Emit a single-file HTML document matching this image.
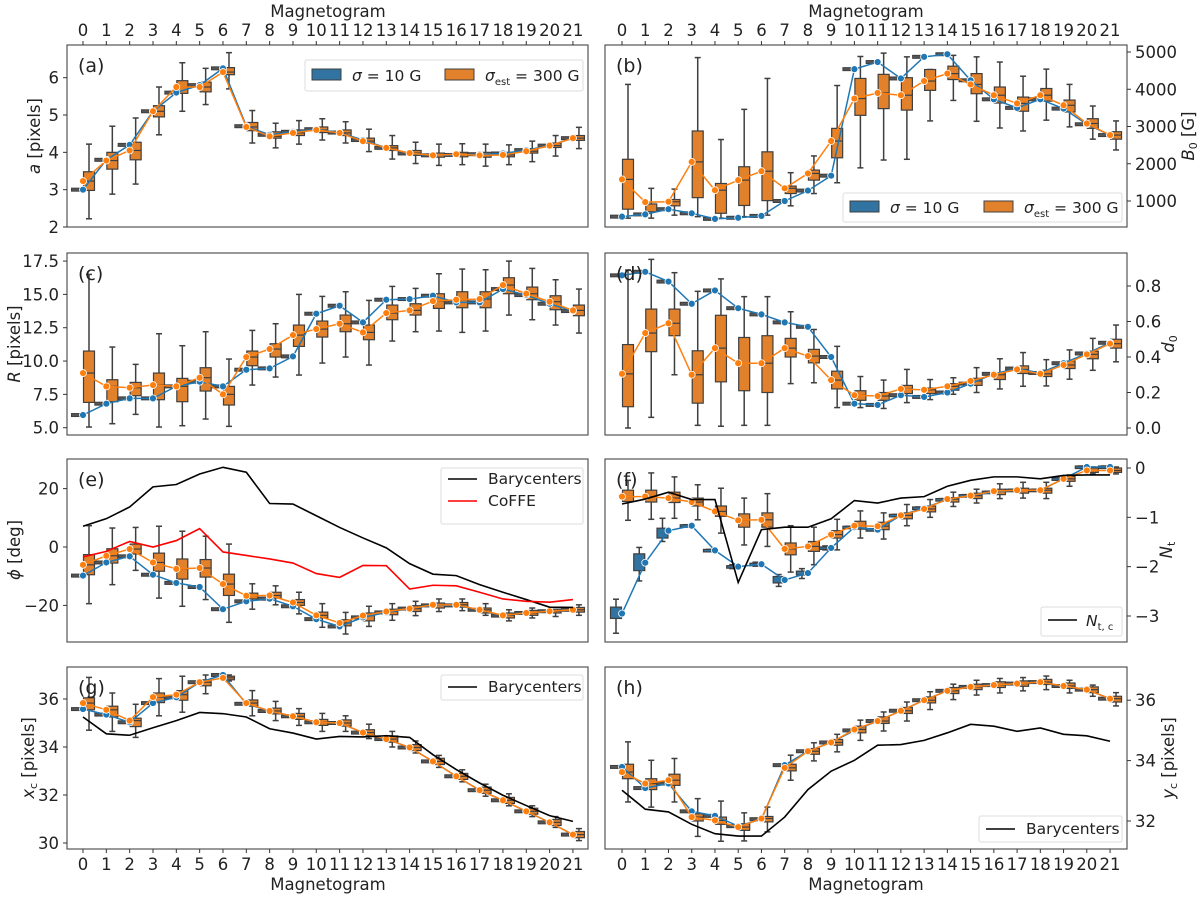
<!DOCTYPE html>
<html><head><meta charset="utf-8">
<style>
body{margin:0;background:#fff;}
svg{display:block;font-family:"DejaVu Sans","Liberation Sans",sans-serif;}
</style></head>
<body>
<svg id="fig" width="1200" height="898" viewBox="0 0 1200 898" xmlns="http://www.w3.org/2000/svg"></svg>
<script>
const mags=[0,1,2,3,4,5,6,7,8,9,10,11,12,13,14,15,16,17,18,19,20,21];
// (a)
const aBlue=[3.0,3.8,4.2,5.1,5.6,5.8,6.25,4.7,4.47,4.55,4.62,4.53,4.33,4.12,3.97,3.92,3.93,3.95,3.97,4.06,4.18,4.38];
const aOrange=[3.23,3.78,4.05,5.1,5.75,5.75,6.15,4.68,4.43,4.52,4.6,4.52,4.3,4.12,3.98,3.92,3.95,3.92,3.93,4.03,4.18,4.38];
const aQ1=[2.98,3.55,3.8,4.95,5.58,5.62,6.08,4.58,4.38,4.45,4.53,4.45,4.25,4.05,3.92,3.87,3.88,3.87,3.88,3.98,4.13,4.32];
const aQ3=[3.48,4.0,4.27,5.25,5.92,5.88,6.27,4.8,4.55,4.6,4.68,4.6,4.38,4.18,4.05,3.98,4.0,4.0,4.0,4.1,4.25,4.45];
const aLo=[2.22,2.88,3.15,4.47,5.1,5.28,5.7,4.25,4.12,4.22,4.33,4.25,4.02,3.82,3.7,3.65,3.67,3.63,3.67,3.75,3.9,4.1];
const aHi=[4.22,4.7,4.92,5.75,6.4,6.25,6.67,5.12,4.78,4.85,4.9,4.82,4.62,4.45,4.27,4.22,4.23,4.22,4.2,4.3,4.45,4.67];
const aTicks=[2,3,4,5,6];
// (b)
const bBlue=[580,640,780,670,520,550,600,1000,1280,1680,4540,4730,4290,4870,4940,4240,3730,3500,3730,3480,3060,2770];
const bOrange=[1580,970,980,2050,1290,1560,1800,1340,1740,2610,3750,3900,3840,4220,4420,4130,3840,3620,3840,3570,3080,2770];
const bQ1=[780,710,870,1090,670,880,1010,1200,1560,2160,3300,3480,3440,3970,4260,3880,3630,3410,3680,3390,2950,2660];
const bQ3=[2120,920,1040,2880,1470,1920,2320,1400,1830,2950,4290,4400,4310,4530,4620,4420,4060,3790,4020,3710,3210,2860];
const bLo=[540,540,620,580,540,580,620,870,1200,1490,1890,2100,2120,3150,3700,3140,2960,2880,3170,2990,2660,2370];
const bHi=[4130,1340,1320,4850,2650,3460,4290,1760,2210,4100,4880,4970,4870,4530,4910,4870,4730,4350,4540,4130,3550,3150];
const bTicks=[1000,2000,3000,4000,5000];
// (c)
const cBlue=[5.95,6.8,7.2,7.2,8.1,8.45,8.1,9.35,9.45,10.35,13.55,14.15,12.9,14.6,14.65,14.9,14.4,14.4,15.4,14.95,14.3,13.75];
const cOrange=[9.1,8.1,8.0,8.2,8.1,8.75,7.5,10.3,10.9,11.95,12.4,12.8,12.15,13.6,13.8,14.5,14.6,14.65,15.7,15.05,14.45,13.8];
const cQ1=[6.9,6.95,7.4,7.1,6.95,7.75,6.7,9.65,10.3,11.1,11.8,12.2,11.6,13.1,13.45,13.95,14.0,14.0,15.05,14.6,13.85,13.4];
const cQ3=[10.75,8.6,8.4,9.1,8.7,9.5,8.1,10.75,11.3,12.7,13.0,13.45,12.7,14.2,14.3,15.05,15.2,15.2,16.25,15.55,14.9,14.2];
const cLo=[5.05,5.3,6.0,5.05,5.15,5.65,5.1,8.2,8.8,8.95,9.85,10.3,9.7,11.5,12.2,12.25,12.15,12.25,13.45,13.1,12.7,12.1];
const cHi=[16.5,11.05,9.75,12.05,11.15,12.2,10.15,12.3,12.8,15.0,14.85,15.2,14.55,15.6,15.45,16.55,16.9,16.85,17.5,16.95,16.1,15.4];
const cTicks=[5.0,7.5,10.0,12.5,15.0,17.5];
// (d)
const dBlue=[0.86,0.88,0.825,0.70,0.775,0.675,0.64,0.595,0.57,0.40,0.137,0.13,0.185,0.175,0.20,0.25,0.305,0.335,0.31,0.365,0.42,0.48];
const dOrange=[0.305,0.535,0.59,0.30,0.45,0.365,0.365,0.45,0.405,0.27,0.185,0.18,0.22,0.215,0.235,0.265,0.30,0.33,0.305,0.355,0.415,0.475];
const dQ1=[0.12,0.43,0.52,0.14,0.26,0.21,0.20,0.40,0.367,0.22,0.156,0.156,0.194,0.194,0.213,0.24,0.273,0.307,0.29,0.335,0.39,0.45];
const dQ3=[0.47,0.67,0.67,0.435,0.635,0.51,0.52,0.505,0.443,0.32,0.21,0.20,0.24,0.225,0.25,0.28,0.31,0.35,0.326,0.377,0.433,0.50];
const dLo=[0.0,0.06,0.30,0.015,0.01,0.015,0.015,0.25,0.255,0.115,0.115,0.11,0.143,0.16,0.19,0.2,0.22,0.235,0.237,0.275,0.325,0.373];
const dHi=[0.89,0.95,0.875,0.77,0.84,0.74,0.74,0.655,0.555,0.46,0.29,0.27,0.33,0.273,0.283,0.34,0.39,0.425,0.385,0.44,0.505,0.58];
const dTicks=[0.0,0.2,0.4,0.6,0.8];
// (e)
const eBlue=[-9.8,-5.3,-3.2,-9.5,-12.3,-13.7,-21.3,-18.6,-17.7,-20.3,-24.7,-27.2,-24.1,-22.4,-21.1,-20,-20,-21.5,-23.5,-22.6,-22,-21.5];
const eOrange=[-6.1,-3,-0.7,-5.3,-7.5,-7.2,-12.7,-16.7,-16.6,-19,-23.4,-26,-23.5,-22.1,-21.1,-19.8,-19.8,-21.5,-23.4,-22.6,-22,-21.5];
const eQ1=[-9.5,-5.5,-2.4,-8.3,-11,-10.3,-16.6,-17.8,-17.5,-20,-24.3,-27,-25.3,-23.2,-22.1,-20.9,-20.6,-22.6,-24.3,-23.4,-22.6,-22.3];
const eQ3=[-2.6,-0.6,1,-2.1,-4.1,-4.3,-9.3,-15.8,-15.5,-18,-22.3,-24.9,-22.6,-21.3,-20.1,-19.2,-19,-20.9,-22.6,-21.7,-21.3,-20.7];
const eLo=[-19.4,-12.9,-8,-17.5,-20.3,-18,-25.8,-21.3,-19.8,-22.9,-27.5,-29.8,-27.2,-25.1,-23.5,-22.1,-21.8,-23.4,-25.3,-24.3,-23.8,-23.4];
const eHi=[7.3,6.5,6.7,7.1,5.4,3.7,1,-12.6,-13.3,-15.5,-19.4,-22.4,-20.3,-19.4,-18.6,-17.8,-17.8,-19.4,-21.5,-20.9,-21.5,-19.8];
const eBary=[7.1,9.7,13.7,20.6,21.4,25,27.3,25.6,14.9,14.7,10.7,6.7,3.1,-0.3,-5.7,-9.3,-9.8,-12.9,-15.5,-18,-20.6,-20.7];
const eCoffe=[-3.4,-1.5,1.9,0,2.2,6.3,-1.7,-2.9,-4.1,-5.5,-9.1,-10.4,-6.3,-6.4,-14.4,-13.1,-13.3,-15.5,-17.8,-18.6,-18.9,-18];
const eTicks=[-20,0,20];
// (f)
const fBlue=[-2.95,-1.92,-1.27,-1.17,-1.67,-2.0,-1.95,-2.27,-2.13,-1.62,-1.2,-1.25,-0.96,-0.81,-0.64,-0.56,-0.49,-0.45,-0.45,-0.22,0.02,0.02];
const fOrange=[-0.58,-0.58,-0.61,-0.69,-0.88,-1.06,-1.05,-1.64,-1.59,-1.35,-1.17,-1.18,-0.96,-0.83,-0.63,-0.56,-0.47,-0.45,-0.45,-0.22,-0.05,-0.05];
const fQ1=[-0.68,-0.69,-0.7,-0.77,-0.98,-1.2,-1.2,-1.76,-1.69,-1.42,-1.24,-1.25,-1.03,-0.89,-0.69,-0.62,-0.54,-0.51,-0.51,-0.27,-0.09,-0.09];
const fQ3=[-0.45,-0.45,-0.49,-0.61,-0.77,-0.93,-0.91,-1.52,-1.49,-1.27,-1.08,-1.1,-0.91,-0.77,-0.6,-0.51,-0.43,-0.41,-0.41,-0.17,0,0];
const fLo=[-1.06,-1.04,-1.02,-1.05,-1.32,-1.56,-1.59,-2.11,-1.96,-1.66,-1.42,-1.44,-1.17,-1.0,-0.78,-0.71,-0.62,-0.61,-0.62,-0.37,-0.12,-0.12];
const fHi=[-0.25,-0.1,-0.18,-0.34,-0.41,-0.61,-0.52,-1.17,-1.2,-1.04,-0.87,-0.91,-0.74,-0.64,-0.49,-0.43,-0.32,-0.29,-0.29,-0.14,0.02,0.02];
const fBlueQ1=[-3.05,-2.08,-1.42,-1.19,-1.69,-2.02,-1.97,-2.33,-2.17,-1.64,-1.22,-1.27,-0.98,-0.83,-0.66,-0.58,-0.51,-0.47,-0.47,-0.24,0,0];
const fBlueQ3=[-2.82,-1.74,-1.22,-1.15,-1.65,-1.98,-1.93,-2.2,-2.09,-1.6,-1.18,-1.23,-0.94,-0.79,-0.62,-0.54,-0.47,-0.43,-0.43,-0.2,0.04,0.04];
const fBlueLo=[-3.35,-2.29,-1.49,-1.19,-1.69,-2.04,-1.99,-2.4,-2.24,-1.66,-1.22,-1.27,-0.98,-0.83,-0.66,-0.58,-0.51,-0.47,-0.47,-0.24,0,0];
const fBlueHi=[-2.66,-1.61,-1.02,-1.15,-1.65,-1.96,-1.91,-2.16,-2.04,-1.58,-1.18,-1.23,-0.94,-0.79,-0.62,-0.54,-0.47,-0.43,-0.43,-0.2,0.04,0.04];
const fNtc=[-0.73,-0.63,-0.49,-0.64,-0.64,-2.32,-1.25,-1.2,-1.2,-1.03,-0.66,-0.71,-0.61,-0.58,-0.37,-0.25,-0.18,-0.18,-0.22,-0.15,-0.14,-0.14];
const fTicks=[-3,-2,-1,0];
// (g)
const gBlue=[35.58,35.35,35.03,35.83,36.07,36.7,37.0,35.8,35.5,35.28,35.03,35.0,34.6,34.33,33.98,33.4,32.78,32.2,31.78,31.32,30.86,30.35];
const gOrange=[35.83,35.55,35.1,36.08,36.18,36.7,36.88,35.83,35.5,35.28,35.03,35.0,34.6,34.33,33.98,33.4,32.78,32.2,31.78,31.32,30.86,30.35];
const gQ1=[35.55,35.25,34.85,35.85,35.95,36.55,36.8,35.7,35.38,35.15,34.9,34.87,34.47,34.2,33.85,33.27,32.65,32.07,31.65,31.2,30.73,30.22];
const gQ3=[36.05,35.7,35.2,36.25,36.35,36.8,36.95,35.96,35.62,35.4,35.15,35.13,34.72,34.46,34.1,33.53,32.9,32.33,31.9,31.45,30.98,30.48];
const gLo=[34.7,34.65,34.4,35.3,35.45,36.22,36.75,35.3,35.1,34.9,34.65,34.65,34.35,34.0,33.75,33.15,32.55,31.95,31.55,31.1,30.65,30.1];
const gHi=[36.9,36.25,35.78,36.85,36.95,37.0,37.0,36.35,35.9,35.6,35.4,35.3,34.95,34.65,34.25,33.65,33.05,32.45,32.05,31.55,31.1,30.6];
const gBary=[35.25,34.55,34.49,34.8,35.1,35.44,35.39,35.25,34.76,34.58,34.33,34.44,34.42,34.47,34.4,33.68,33.06,32.5,31.99,31.56,31.14,30.9];
const gTicks=[30,32,34,36];
// (h)
const hBlue=[33.79,33.09,33.24,32.32,32.17,31.83,32.06,33.85,34.31,34.6,35.0,35.31,35.65,36.0,36.31,36.44,36.5,36.55,36.6,36.47,36.35,36.05];
const hOrange=[33.62,33.24,33.35,32.13,32.02,31.8,32.08,33.76,34.31,34.6,35.03,35.31,35.65,36.0,36.31,36.44,36.5,36.55,36.6,36.47,36.35,36.05];
const hQ1=[33.4,33.04,33.18,32.0,31.89,31.69,31.97,33.66,34.21,34.51,34.92,35.23,35.56,35.91,36.22,36.35,36.42,36.46,36.52,36.39,36.25,35.94];
const hQ3=[33.88,33.4,33.55,32.24,32.13,31.91,32.15,33.88,34.4,34.7,35.14,35.45,35.76,36.11,36.42,36.53,36.61,36.64,36.69,36.57,36.44,36.13];
const hLo=[32.63,32.46,32.63,31.49,31.33,31.34,31.64,33.35,33.99,34.29,34.67,34.98,35.31,35.69,36.02,36.17,36.24,36.31,36.35,36.24,36.13,35.81];
const hHi=[34.62,34.01,34.07,32.74,32.66,32.27,32.46,34.18,34.59,34.87,35.34,35.61,35.94,36.28,36.53,36.66,36.72,36.75,36.8,36.66,36.5,36.25];
const hBary=[33.02,32.39,32.3,31.89,31.58,31.5,31.5,32.13,33.04,33.65,34.01,34.51,34.53,34.67,34.92,35.2,35.14,34.97,35.08,34.87,34.82,34.64];
const hTicks=[32,34,36];

const NS='http://www.w3.org/2000/svg';
const svg=document.getElementById('fig');
function mk(tag,attrs,parent,text){const e=document.createElementNS(NS,tag);for(const k in attrs)e.setAttribute(k,attrs[k]);if(text!==undefined)e.textContent=text;(parent||svg).appendChild(e);return e;}
const BLUE='#1f77b4',ORANGE='#ff7f0e',BOXO='#e1812c',BOXB='#3274a1',EDGE='#3f3f3f';
const TFS=16.5;

function panel(p){
  const g=mk('g',{});
  
  
  const xs=i=>p.xa+i*p.dx;
  const ys=v=>p.y0+(v-p.v0)*p.k;
  const fr=mk('rect',{x:p.L,y:p.T,width:p.R-p.L,height:p.B-p.T,fill:'none',stroke:'#555','stroke-width':1.2},g);
  
  
  mags.forEach((m,i)=>{
    const x=xs(i);
    if(p.xtop){mk('line',{x1:x,x2:x,y1:p.T,y2:p.T-4,stroke:'#333'},g);
      const t=mk('text',{x:x,y:p.T-9,'font-size':TFS,'text-anchor':'middle',fill:'#222'},g,String(m));
      }
    if(p.xbot){mk('line',{x1:x,x2:x,y1:p.B,y2:p.B+4,stroke:'#333'},g);
      const t=mk('text',{x:x,y:p.B+21,'font-size':TFS,'text-anchor':'middle',fill:'#222'},g,String(m));
      }
  });
  p.ticks.forEach(v=>{
    const y=ys(v);
    if(p.right){mk('line',{x1:p.R,x2:p.R+4,y1:y,y2:y,stroke:'#333'},g);
      const t=mk('text',{x:p.R+8,y:y+6,'font-size':TFS,'text-anchor':'start',fill:'#222'},g,p.fmt(v));
      }
    else{mk('line',{x1:p.L,x2:p.L-4,y1:y,y2:y,stroke:'#333'},g);
      const t=mk('text',{x:p.L-8,y:y+6,'font-size':TFS,'text-anchor':'end',fill:'#222'},g,p.fmt(v));
      }
  });
  const hw=5.5;
  mags.forEach((m,i)=>{
    const x=xs(i);
    const bx=x-6;
    if(p.bq1){
      mk('line',{x1:bx,x2:bx,y1:ys(p.blo[i]),y2:ys(p.bhi[i]),stroke:EDGE,'stroke-width':1.5},g);
      mk('line',{x1:bx-3,x2:bx+3,y1:ys(p.blo[i]),y2:ys(p.blo[i]),stroke:EDGE,'stroke-width':1.5},g);
      mk('line',{x1:bx-3,x2:bx+3,y1:ys(p.bhi[i]),y2:ys(p.bhi[i]),stroke:EDGE,'stroke-width':1.5},g);
      const r=mk('rect',{x:bx-hw,y:Math.min(ys(p.bq1[i]),ys(p.bq3[i])),width:hw*2,height:Math.max(2.5,Math.abs(ys(p.bq1[i])-ys(p.bq3[i]))),fill:BOXB,stroke:EDGE,'stroke-width':1.2},g);
      
    } else {
      const r=mk('rect',{x:bx-hw,y:ys(p.blue[i])-1.5,width:hw*2,height:3,fill:'#555',stroke:EDGE,'stroke-width':1},g);
      
    }
    const ox=x+6;
    mk('line',{x1:ox,x2:ox,y1:ys(p.lo[i]),y2:ys(p.hi[i]),stroke:EDGE,'stroke-width':1.5},g);
    mk('line',{x1:ox-3,x2:ox+3,y1:ys(p.lo[i]),y2:ys(p.lo[i]),stroke:EDGE,'stroke-width':1.5},g);
    mk('line',{x1:ox-3,x2:ox+3,y1:ys(p.hi[i]),y2:ys(p.hi[i]),stroke:EDGE,'stroke-width':1.5},g);
    const yq=Math.min(ys(p.q1[i]),ys(p.q3[i]));
    const r=mk('rect',{x:ox-hw,y:yq,width:hw*2,height:Math.max(2.5,Math.abs(ys(p.q1[i])-ys(p.q3[i]))),fill:BOXO,stroke:EDGE,'stroke-width':1.2},g);
    
    mk('line',{x1:ox-hw,x2:ox+hw,y1:ys(p.orange[i]),y2:ys(p.orange[i]),stroke:EDGE,'stroke-width':1.2},g);
  });
  const line=(arr,col,name,w)=>{
    const pl=mk('polyline',{points:arr.map((v,i)=>xs(i)+','+ys(v)).join(' '),fill:'none',stroke:col,'stroke-width':w||1.5},g);
    
  };
  line(p.blue,BLUE,'blue-mean-line');
  p.blue.forEach((v,i)=>{const c=mk('circle',{cx:xs(i),cy:ys(v),r:3.5,fill:BLUE,stroke:'#fff','stroke-width':0.8},g);
    });
  line(p.orange,ORANGE,'orange-mean-line');
  p.orange.forEach((v,i)=>{const c=mk('circle',{cx:xs(i),cy:ys(v),r:3.5,fill:ORANGE,stroke:'#fff','stroke-width':0.8},g);
    });
  (p.extra||[]).forEach(e=>line(e.arr,e.col,e.name,1.6));
  const lt=mk('text',{x:p.L+11,y:p.T+27,'font-size':19,fill:'#222'},g,'('+p.id+')');
  
  return g;
}
const Lp={L:67,R:588,xa:83,dx:23.33};
const Rp={L:605,R:1127,xa:622,dx:23.24};
const f1=v=>v.toFixed(1).replace('-','\u2212'), f0=v=>String(v).replace('-','\u2212');
panel(Object.assign({id:'a',T:45,B:227,y0:227,v0:2,k:-37.33,ticks:aTicks,fmt:f0,xtop:true,blue:aBlue,orange:aOrange,q1:aQ1,q3:aQ3,lo:aLo,hi:aHi},Lp));
panel(Object.assign({id:'b',T:45,B:227,y0:201,v0:1000,k:-0.03725,ticks:bTicks,fmt:f0,right:true,xtop:true,blue:bBlue,orange:bOrange,q1:bQ1,q3:bQ3,lo:bLo,hi:bHi},Rp));
panel(Object.assign({id:'c',T:253,B:435,y0:427.7,v0:5,k:-13.33,ticks:cTicks,fmt:f1,blue:cBlue,orange:cOrange,q1:cQ1,q3:cQ3,lo:cLo,hi:cHi},Lp));
panel(Object.assign({id:'d',T:253,B:435,y0:428,v0:0,k:-177.5,ticks:dTicks,fmt:f1,right:true,blue:dBlue,orange:dOrange,q1:dQ1,q3:dQ3,lo:dLo,hi:dHi},Rp));
panel(Object.assign({id:'e',T:459,B:642,y0:547,v0:0,k:-2.92,ticks:eTicks,fmt:f0,blue:eBlue,orange:eOrange,q1:eQ1,q3:eQ3,lo:eLo,hi:eHi,extra:[{arr:eBary,col:'#000',name:'barycenters-line'},{arr:eCoffe,col:'#ff0000',name:'coffe-line'}]},Lp));
panel(Object.assign({id:'f',T:459,B:642,y0:468,v0:0,k:-49.33,ticks:fTicks,fmt:f0,right:true,blue:fBlue,orange:fOrange,q1:fQ1,q3:fQ3,lo:fLo,hi:fHi,bq1:fBlueQ1,bq3:fBlueQ3,blo:fBlueLo,bhi:fBlueHi,extra:[{arr:fNtc,col:'#000',name:'ntc-line'}]},Rp));
panel(Object.assign({id:'g',T:667,B:849,y0:843,v0:30,k:-24,ticks:gTicks,fmt:f0,xbot:true,blue:gBlue,orange:gOrange,q1:gQ1,q3:gQ3,lo:gLo,hi:gHi,extra:[{arr:gBary,col:'#000',name:'barycenters-line'}]},Lp));
panel(Object.assign({id:'h',T:667,B:849,y0:821,v0:32,k:-30.2,ticks:hTicks,fmt:f0,right:true,xbot:true,blue:hBlue,orange:hOrange,q1:hQ1,q3:hQ3,lo:hLo,hi:hHi,extra:[{arr:hBary,col:'#000',name:'barycenters-line'}]},Rp));
</script>
<svg width="1200" height="898" style="position:absolute;left:0;top:0" xmlns="http://www.w3.org/2000/svg" font-family="DejaVu Sans, Liberation Sans, sans-serif" fill="#222">
  <text x="328" y="17" font-size="16.5" text-anchor="middle">Magnetogram</text>
  <text x="866" y="17" font-size="16.5" text-anchor="middle">Magnetogram</text>
  <text x="328" y="890" font-size="16.5" text-anchor="middle">Magnetogram</text>
  <text x="866" y="890" font-size="16.5" text-anchor="middle">Magnetogram</text>
  <text transform="translate(40,136) rotate(-90)" font-size="16.5" text-anchor="middle"><tspan font-style="italic">a</tspan> [pixels]</text>
  <text transform="translate(20,344) rotate(-90)" font-size="16.5" text-anchor="middle"><tspan font-style="italic">R</tspan> [pixels]</text>
  <text transform="translate(20,550) rotate(-90)" font-size="16.5" text-anchor="middle"><tspan font-style="italic">ϕ</tspan> [deg]</text>
  <text transform="translate(34,758) rotate(-90)" font-size="16.5" text-anchor="middle"><tspan font-style="italic">x</tspan><tspan font-size="11" dy="3">c</tspan><tspan dy="-3"> [pixels]</tspan></text>
  <text transform="translate(1194,136) rotate(-90)" font-size="16.5" text-anchor="middle"><tspan font-style="italic">B</tspan><tspan font-size="11" dy="3">0</tspan><tspan dy="-3"> [G]</tspan></text>
  <text transform="translate(1174,344) rotate(-90)" font-size="16.5" text-anchor="middle"><tspan font-style="italic">d</tspan><tspan font-size="11" dy="3">0</tspan></text>
  <text transform="translate(1172,550) rotate(-90)" font-size="16.5" text-anchor="middle"><tspan font-style="italic">N</tspan><tspan font-size="11" dy="3">t</tspan></text>
  <text transform="translate(1174,758) rotate(-90)" font-size="16.5" text-anchor="middle"><tspan font-style="italic">y</tspan><tspan font-size="11" dy="3">c</tspan><tspan dy="-3"> [pixels]</tspan></text>

  <g>
    <rect x="305" y="60" width="278" height="31" fill="#fff" fill-opacity="0.85" stroke="#ddd" rx="2"/>
    <rect x="312" y="69" width="29" height="11" fill="#3274a1" stroke="#3f3f3f"/>
    <text x="352" y="81" font-size="15.5"><tspan font-style="italic">σ</tspan> = 10 G</text>
    <rect x="445" y="69" width="29" height="11" fill="#e1812c" stroke="#3f3f3f"/>
    <text x="485" y="81" font-size="15.5"><tspan font-style="italic">σ</tspan><tspan font-size="10" dy="4">est</tspan><tspan dy="-4"> = 300 G</tspan></text>
  </g>
  <g>
    <rect x="843" y="193" width="279" height="29" fill="#fff" fill-opacity="0.85" stroke="#ddd" rx="2"/>
    <rect x="850" y="201" width="29" height="11" fill="#3274a1" stroke="#3f3f3f"/>
    <text x="890" y="213" font-size="15.5"><tspan font-style="italic">σ</tspan> = 10 G</text>
    <rect x="984" y="201" width="29" height="11" fill="#e1812c" stroke="#3f3f3f"/>
    <text x="1024" y="213" font-size="15.5"><tspan font-style="italic">σ</tspan><tspan font-size="10" dy="4">est</tspan><tspan dy="-4"> = 300 G</tspan></text>
  </g>
  <g>
    <rect x="441" y="468" width="142" height="56" fill="#fff" fill-opacity="0.85" stroke="#ddd" rx="2"/>
    <line x1="448" x2="477" y1="479" y2="479" stroke="#000" stroke-width="1.6"/>
    <text x="488" y="484" font-size="15.5">Barycenters</text>
    <line x1="448" x2="477" y1="501" y2="501" stroke="#f00" stroke-width="1.6"/>
    <text x="488" y="506" font-size="15.5">CoFFE</text>
  </g>
  <g>
    <rect x="1041" y="607" width="81" height="29" fill="#fff" fill-opacity="0.85" stroke="#ddd" rx="2"/>
    <line x1="1048" x2="1077" y1="620" y2="620" stroke="#000" stroke-width="1.6"/>
    <text x="1086" y="626" font-size="15.5"><tspan font-style="italic">N</tspan><tspan font-size="10" dy="4">t, c</tspan></text>
  </g>
  <g>
    <rect x="441" y="675" width="142" height="25" fill="#fff" fill-opacity="0.85" stroke="#ddd" rx="2"/>
    <line x1="448" x2="477" y1="687" y2="687" stroke="#000" stroke-width="1.6"/>
    <text x="488" y="692" font-size="15.5">Barycenters</text>
  </g>
  <g>
    <rect x="979" y="816" width="143" height="26" fill="#fff" fill-opacity="0.85" stroke="#ddd" rx="2"/>
    <line x1="986" x2="1015" y1="829" y2="829" stroke="#000" stroke-width="1.6"/>
    <text x="1026" y="834" font-size="15.5">Barycenters</text>
  </g>
</svg>
</body></html>
